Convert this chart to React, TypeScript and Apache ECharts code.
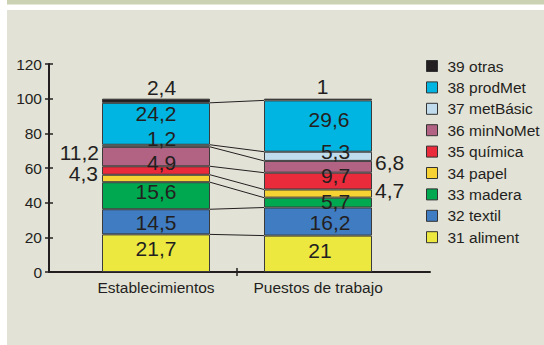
import React, { useEffect, useRef } from "react";
import * as echarts from "echarts";

const categories = ["Establecimientos", "Puestos de trabajo"];
const sectors = [
  "31 aliment",
  "32 textil",
  "33 madera",
  "34 papel",
  "35 química",
  "36 minNoMet",
  "37 metBásic",
  "38 prodMet",
  "39 otras",
];
const establecimientos = [21.7, 14.5, 15.6, 4.3, 4.9, 11.2, 1.2, 24.2, 2.4];
const puestos = [21, 16.2, 5.7, 4.7, 9.7, 6.8, 5.3, 29.6, 1];
const yMin = 0;
const yMax = 120;
const yInterval = 20;

// styles (kept apart from the data)
const COLORS = [
  "#ece83f",
  "#3f7cc2",
  "#00a84f",
  "#f6d232",
  "#ea2b3b",
  "#b26282",
  "#c0dcec",
  "#00b5e2",
  "#231f20",
];
// [position, dx, dy, distance] per sector, for each bar
const LABEL_EST: [string, number, number, number][] = [
  ["inside", 0, -5, 0],
  ["inside", 0, 1, 0],
  ["inside", 0, -4, 0],
  ["left", 0, -5, 4],
  ["inside", 5.5, -8, 0],
  ["left", 0, -4, 3],
  ["inside", 5.5, -7, 0],
  ["inside", 0, -10, 0],
  ["top", 5.5, 0, 1],
];
const LABEL_PUE: [string, number, number, number][] = [
  ["inside", 2, -3, 0],
  ["inside", 12, 1, 0],
  ["inside", 17.5, -1, 0],
  ["right", 0, -3, 3],
  ["inside", 17.5, -6, 0],
  ["right", 0, -4, 3],
  ["inside", 17.5, -5, 0],
  ["inside", 11, -7, 0],
  ["top", 4.5, 0, 2],
];

const FONT = "'Liberation Sans', Arial, Helvetica, sans-serif";
const INK = "#231f20";
const BAR_W = 108;

function cumulative(arr: number[]) {
  const out: number[] = [];
  let s = 0;
  for (const v of arr) {
    s += v;
    out.push(Math.round(s * 10) / 10);
  }
  return out;
}

export default function App() {
  const ref = useRef<HTMLDivElement>(null);
  useEffect(() => {
    if (!ref.current) return;
    const chart = echarts.init(ref.current, undefined, { renderer: "svg" });

    const fmt = (v: number) => String(v).replace(".", ",");
    const mkLabel = (cfg: [string, number, number, number]) => ({
      show: true,
      position: cfg[0],
      offset: [cfg[1], cfg[2]],
      distance: cfg[3],
      fontSize: 21,
      fontFamily: FONT,
      color: INK,
      formatter: (p: any) => fmt(p.value),
    });

    const barSeries = sectors.map((name, i) => ({
      name,
      type: "bar",
      stack: "total",
      xAxisIndex: 2,
      yAxisIndex: 2,
      barWidth: BAR_W,
      z: 3,
      itemStyle: { color: COLORS[i], borderColor: "#3b3b3b", borderWidth: 1 },
      data: [
        { value: establecimientos[i], label: mkLabel(LABEL_EST[i]) },
        { value: puestos[i], label: mkLabel(LABEL_PUE[i]) },
      ],
    }));

    const cumE = cumulative(establecimientos);
    const cumP = cumulative(puestos);
    const connectors = cumE.slice(0, -1).map((v, i) => [0, v, cumP[i]]);

    const yCommon = { type: "value", min: yMin, max: yMax, interval: yInterval, splitLine: { show: false } };

    const option: any = {
      animation: false,
      textStyle: { fontFamily: FONT },
      graphic: [
        { type: "rect", shape: { x: 7, y: 0, width: 537, height: 4.5 }, style: { fill: "#cbd2b3" }, z: -10 },
        { type: "rect", shape: { x: 7, y: 10, width: 537, height: 335 }, style: { fill: "#e3e2d7" }, z: -10 },
      ],
      grid: [
        { left: 49, right: 114, top: 64, bottom: 73, containLabel: false },
        { left: 75, right: 145, top: 64, bottom: 73, containLabel: false },
      ],
      legend: {
        orient: "vertical",
        left: 421,
        top: 53,
        itemWidth: 11,
        itemHeight: 11,
        itemGap: 5.4,
        icon: "rect",
        data: sectors.slice().reverse(),
        itemStyle: { borderColor: "#333", borderWidth: 1 },
        textStyle: { fontSize: 15.5, color: INK, fontFamily: FONT, padding: [0, 0, 0, 5] },
      },
      xAxis: [
        {
          type: "value",
          gridIndex: 0,
          min: -0.66,
          max: 1.69,
          position: "bottom",
          splitLine: { show: false },
          axisLine: { show: true, onZero: false, lineStyle: { color: INK, width: 2 } },
          axisTick: { show: true, length: 4, customValues: [0.5], lineStyle: { color: INK, width: 1.5 } },
          axisLabel: {
            customValues: [0, 1],
            formatter: (v: number) => categories[Math.round(v)] ?? "",
            fontSize: 15.5,
            color: INK,
            fontFamily: FONT,
            margin: 7,
          },
        },
        {
          type: "value",
          gridIndex: 0,
          min: -0.66,
          max: 1.69,
          position: "bottom",
          splitLine: { show: false },
          axisLine: { show: false, onZero: false },
          axisTick: { show: true, inside: true, length: 4, customValues: [0.5], lineStyle: { color: INK, width: 1.5 } },
          axisLabel: { show: false },
        },
        {
          type: "category",
          gridIndex: 1,
          data: categories,
          show: false,
        },
      ],
      yAxis: [
        {
          ...yCommon,
          gridIndex: 0,
          position: "left",
          axisLine: { show: true, onZero: false, lineStyle: { color: INK, width: 2 } },
          axisTick: { show: true, length: 4, lineStyle: { color: INK, width: 1.5 } },
          axisLabel: { fontSize: 15.5, color: INK, fontFamily: FONT, margin: 7 },
        },
        {
          ...yCommon,
          gridIndex: 0,
          position: "left",
          axisLine: { show: false, onZero: false },
          axisTick: { show: true, inside: true, length: 4, lineStyle: { color: INK, width: 1.5 } },
          axisLabel: { show: false },
        },
        {
          ...yCommon,
          gridIndex: 1,
          show: false,
        },
      ],
      series: [
        ...barSeries,
        {
          type: "custom",
          name: "connectors",
          xAxisIndex: 2,
          yAxisIndex: 2,
          silent: true,
          z: 1,
          encode: { x: 0, y: 1 },
          data: connectors,
          renderItem: (params: any, api: any) => {
            const a = api.value(1);
            const b = api.value(2);
            const p0 = api.coord([0, a]);
            const p1 = api.coord([1, b]);
            return {
              type: "line",
              shape: { x1: p0[0] + BAR_W / 2, y1: p0[1], x2: p1[0] - BAR_W / 2, y2: p1[1] },
              style: { stroke: INK, lineWidth: 1 },
            };
          },
        },
      ],
    };
    chart.setOption(option);
    return () => chart.dispose();
  }, []);

  return (
    <div style={{ position: "absolute", left: 0, top: 0, width: 544, height: 345, background: "#ffffff" }}>
      <div ref={ref} style={{ width: 544, height: 345 }} />
    </div>
  );
}
